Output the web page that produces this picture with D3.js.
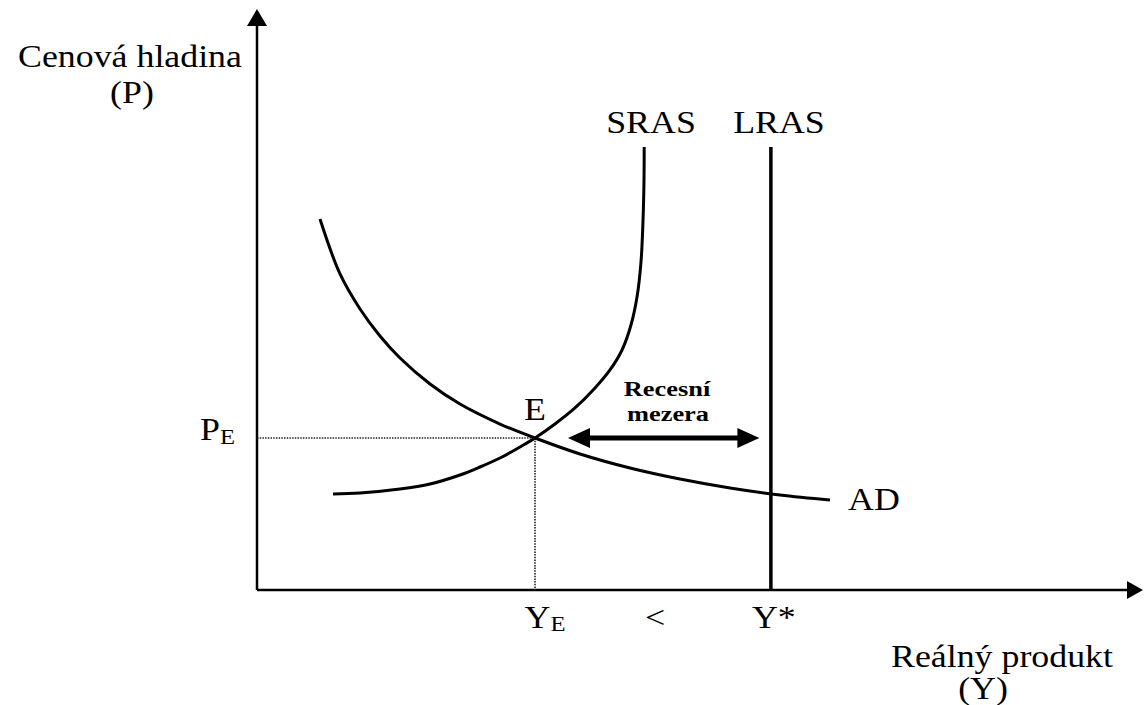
<!DOCTYPE html>
<html>
<head>
<meta charset="utf-8">
<script src="https://cdn.jsdelivr.net/npm/d3@7"></script>
<style>
  body { margin: 0; background: #fff; }
  svg { display: block; }
</style>
</head>
<body>
<div id="chart"></div>
<script>
// curve points, in chart units (x = real output, y = price level)
const srasX = [8.58, 11.63, 16.14, 19.53, 22.91, 25.17, 27.43, 29.68, 31.38, 33.63, 35.89, 38.15, 39.84, 41.20, 42.21, 42.89, 43.34, 43.57, 43.68, 43.70];
const srasY = [16.52, 16.70, 17.38, 18.24, 19.79, 21.17, 22.72, 24.61, 26.16, 28.57, 31.33, 34.77, 37.87, 41.31, 45.61, 50.43, 56.45, 63.68, 70.57, 76.25];
const adX = [7.11, 9.37, 11.63, 13.88, 16.14, 19.53, 22.91, 27.43, 31.38, 36.46, 42.10, 47.74, 53.39, 59.03, 64.67];
const adY = [63.86, 54.39, 48.36, 43.72, 39.93, 35.46, 32.01, 28.57, 26.16, 23.41, 21.00, 19.10, 17.56, 16.35, 15.49];
const lrasX = [58.0, 58.0];
const lrasY = [0, 76.25];
const equilibrium = [31.38, 26.16];   // E
const gapX = [35.1, 56.7];            // recesní mezera arrow

var w = 1144, h = 705;
var svg = d3.select("#chart").append("svg").attr("width", w).attr("height", h);

var x = d3.scaleLinear().domain([0, 100]).range([257, 1143]);
var y = d3.scaleLinear().domain([0, 100]).range([590, 9]);

const font = "'Liberation Serif', 'Times New Roman', serif";

// axes
svg.append("line")
    .attr("x1", x(0)).attr("y1", y(0))
    .attr("x2", x(0)).attr("y2", y(100) + 14)
    .style("stroke", "#000").style("stroke-width", 2.5);
svg.append("path")
    .attr("d", "M" + x(0) + "," + y(100) + " L" + (x(0) - 10) + "," + (y(100) + 17) + " L" + (x(0) + 10) + "," + (y(100) + 17) + "Z")
    .style("fill", "#000");
svg.append("line")
    .attr("x1", x(0)).attr("y1", y(0))
    .attr("x2", x(100) - 14).attr("y2", y(0))
    .style("stroke", "#000").style("stroke-width", 2.5);
svg.append("path")
    .attr("d", "M" + x(100) + "," + y(0) + " L" + (x(100) - 16) + "," + (y(0) - 9) + " L" + (x(100) - 16) + "," + (y(0) + 9) + "Z")
    .style("fill", "#000");

// dotted guides to E
var ex = x(equilibrium[0]), ey = y(equilibrium[1]);
svg.append("line")
    .attr("x1", x(0)).attr("y1", ey).attr("x2", ex).attr("y2", ey)
    .style("stroke", "#222").style("stroke-width", 1.6).style("stroke-dasharray", "1.5,1.2");
svg.append("line")
    .attr("x1", ex).attr("y1", ey).attr("x2", ex).attr("y2", y(0))
    .style("stroke", "#222").style("stroke-width", 1.6).style("stroke-dasharray", "1.5,1.2");

// curves
var line = d3.line()
    .x(d => x(d[0]))
    .y(d => y(d[1]))
    .curve(d3.curveCatmullRom.alpha(0.5));

svg.append("path")
    .attr("d", line(d3.zip(adX, adY)))
    .style("fill", "none").style("stroke", "#000").style("stroke-width", 3);
svg.append("path")
    .attr("d", line(d3.zip(srasX, srasY)))
    .style("fill", "none").style("stroke", "#000").style("stroke-width", 3);
svg.append("path")
    .attr("d", line(d3.zip(lrasX, lrasY)))
    .style("fill", "none").style("stroke", "#000").style("stroke-width", 3.5);

// recession gap arrow
var gx1 = x(gapX[0]), gx2 = x(gapX[1]), gy = ey;
svg.append("line")
    .attr("x1", gx1 + 15).attr("y1", gy).attr("x2", gx2 - 15).attr("y2", gy)
    .style("stroke", "#000").style("stroke-width", 5);
svg.append("path")
    .attr("d", "M" + gx1 + "," + gy + " L" + (gx1 + 22) + "," + (gy - 10) + " L" + (gx1 + 22) + "," + (gy + 10) + "Z")
    .style("fill", "#000");
svg.append("path")
    .attr("d", "M" + gx2 + "," + gy + " L" + (gx2 - 22) + "," + (gy - 10) + " L" + (gx2 - 22) + "," + (gy + 10) + "Z")
    .style("fill", "#000");

// text helper, the source font is a bit wider than Times
function label(px, py, txt, anchor, size, weight, sx) {
    var t = svg.append("text")
        .attr("transform", "translate(" + px + "," + py + ") scale(" + (sx || 1.12) + ",1)")
        .attr("text-anchor", anchor || "middle")
        .style("font-family", font)
        .style("font-size", (size || 32) + "px")
        .style("font-weight", weight || "normal")
        .style("fill", "#000");
    if (txt) t.text(txt);
    return t;
}

label(130, 67, "Cenová hladina");
label(132, 103, "(P)");
label(1002, 667, "Reálný produkt");
label(983, 699, "(Y)");

label(651, 133, "SRAS");
label(779, 133, "LRAS");
label(848, 510, "AD", "start");
label(ex, 420, "E");

label(667, 396, "Recesní", "middle", 22, "bold", 1.2);
label(668, 421, "mezera", "middle", 22, "bold", 1.2);

// tick-like labels with subscripts
var pe = label(x(0) - 22, ey + 2, null, "end");
pe.append("tspan").text("P");
pe.append("tspan").attr("dy", 4).style("font-size", "22px").text("E");

var ye = label(ex + 10, 628, null, "middle");
ye.append("tspan").text("Y");
ye.append("tspan").attr("dy", 3).style("font-size", "22px").text("E");

label(655, 628, "<");
label(x(lrasX[0]) + 3, 628, "Y*");
</script>
</body>
</html>
